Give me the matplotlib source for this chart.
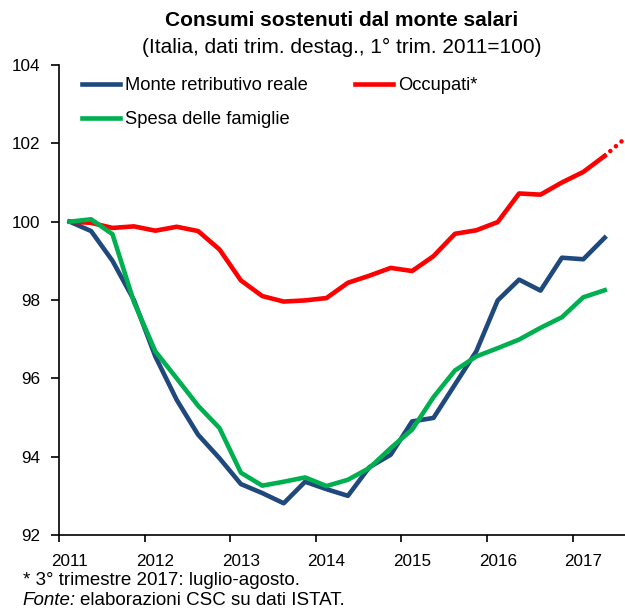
import matplotlib
matplotlib.use("Agg")
import matplotlib.pyplot as plt
import numpy as np

plt.rcParams['font.family'] = ['Liberation Sans', 'DejaVu Sans']

years = ['2011', '2012', '2013', '2014', '2015', '2016', '2017']
monte = [100.0, 99.76, 99.0, 98.0, 96.56, 95.45, 94.56, 93.96, 93.30, 93.07, 92.81, 93.36, 93.17,
         93.0, 93.73, 94.05, 94.9, 94.99, 95.84, 96.69, 97.99, 98.52, 98.24, 99.08, 99.04, 99.59]
occupati = [100.0, 99.97, 99.84, 99.88, 99.77, 99.87, 99.76, 99.29, 98.50, 98.10, 97.96, 97.99, 98.05,
            98.44, 98.62, 98.82, 98.74, 99.12, 99.69, 99.78, 99.99, 100.72, 100.69, 101.0, 101.27, 101.68]
occupati_q3_2017 = 102.15
spesa = [100.0, 100.06, 99.68, 97.95, 96.69, 96.0, 95.3, 94.73, 93.59, 93.26, 93.36, 93.47, 93.25,
         93.41, 93.71, 94.22, 94.69, 95.52, 96.2, 96.56, 96.77, 96.99, 97.29, 97.56, 98.07, 98.25]

blue = '#1F497D'
red = '#FF0000'
green = '#00B050'

W, H = 625, 612
fig = plt.figure(figsize=(W / 100, H / 100), dpi=100)
ax = fig.add_axes([59 / W, (H - 535) / H, 1 - 59 / W, (535 - 65) / H])

x = np.arange(len(monte))
lw = 3.3
l1, = ax.plot(x, monte, color=blue, lw=lw, label='Monte retributivo reale')
l2, = ax.plot(x, occupati, color=red, lw=lw, label='Occupati*')
l3, = ax.plot(x, spesa, color=green, lw=lw, label='Spesa delle famiglie')
ax.plot([x[-1], x[-1] + 1], [occupati[-1], occupati_q3_2017], color=red, lw=lw,
        linestyle=(0, (0.01, 1.6)), dash_capstyle='round')

ax.set_ylim(92, 104)
ax.set_yticks([92, 94, 96, 98, 100, 102, 104])
ax.set_xlim(-0.5, -0.5 + (W - 59) / 21.4)

# category boundary ticks (major, no labels); year labels as minor ticks
ax.set_xticks(np.arange(-0.5, 27, 4))
ax.set_xticklabels([])
ax.set_xticks(np.arange(0, 4 * len(years), 4), minor=True)
ax.set_xticklabels(years, minor=True)
ax.tick_params(axis='x', which='major', direction='out', length=5, width=1.2, color='black')
ax.tick_params(axis='x', which='minor', length=0, pad=14, labelsize=12.3)
ax.tick_params(axis='y', direction='out', length=5.5, width=1.2, labelsize=12.3, pad=8)

for s in ['top', 'right']:
    ax.spines[s].set_visible(False)
ax.spines['left'].set_linewidth(1.2)
ax.spines['bottom'].set_linewidth(1.2)

fs_leg = 13.2
leg = ax.legend(handles=[l1, l3, l2], ncol=2, loc='upper left',
                bbox_to_anchor=(82 / W, 1 - 77 / H), bbox_transform=fig.transFigure,
                frameon=False, fontsize=fs_leg, handlelength=2.07, handletextpad=0.27,
                columnspacing=2.6, labelspacing=0.95, borderpad=0, borderaxespad=0)

cx = (59 + W) / 2 / W
fig.text(cx, 1 - 21 / H, 'Consumi sostenuti dal monte salari', ha='center', va='center',
         fontsize=15, fontweight='bold')
fig.text(cx, 1 - 47 / H, '(Italia, dati trim. destag., 1° trim. 2011=100)', ha='center', va='center',
         fontsize=15)

fs_note = 13.5
fig.text(23 / W, 1 - 585 / H, '* 3° trimestre 2017: luglio-agosto.', ha='left', va='baseline',
         fontsize=fs_note)
t = fig.text(22 / W, 1 - 605 / H, 'Fonte:', ha='left', va='baseline', fontsize=fs_note, style='italic')
fig.canvas.draw()
bb = t.get_window_extent()
fig.text(bb.x1 / fig.bbox.width + 0.007, 1 - 605 / H, 'elaborazioni CSC su dati ISTAT.', ha='left',
         va='baseline', fontsize=fs_note)

fig.savefig('out.png', dpi=100)
